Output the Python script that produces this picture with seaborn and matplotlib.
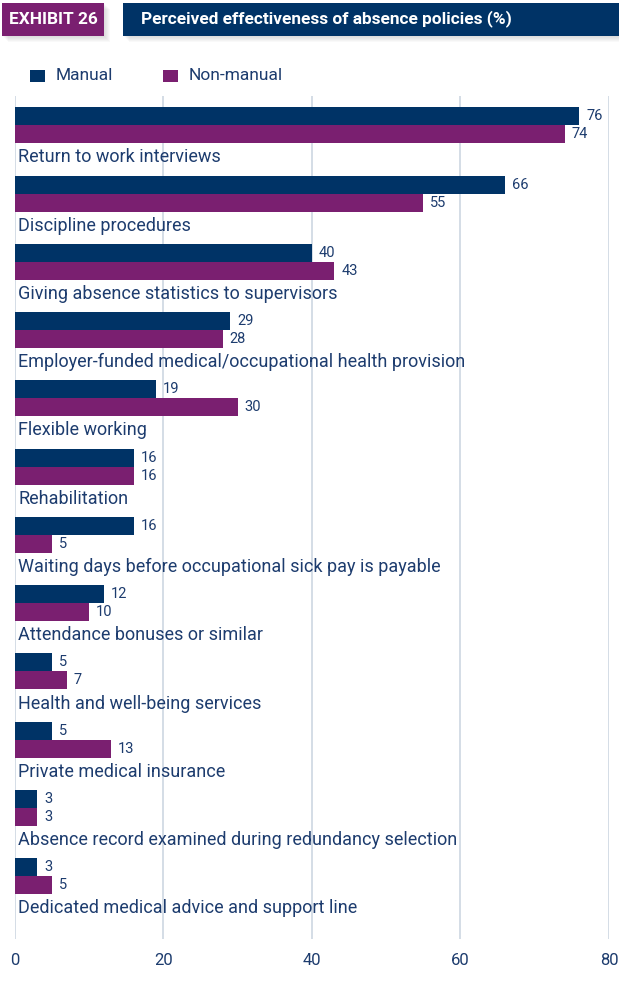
import matplotlib
matplotlib.use("Agg")
import matplotlib.pyplot as plt
from matplotlib.patches import Rectangle
import seaborn as sns
import pandas as pd

# Data
categories = [
    "Return to work interviews",
    "Discipline procedures",
    "Giving absence statistics to supervisors",
    "Employer-funded medical/occupational health provision",
    "Flexible working",
    "Rehabilitation",
    "Waiting days before occupational sick pay is payable",
    "Attendance bonuses or similar",
    "Health and well-being services",
    "Private medical insurance",
    "Absence record examined during redundancy selection",
    "Dedicated medical advice and support line",
]
manual = [76, 66, 40, 29, 19, 16, 16, 12, 5, 5, 3, 3]
non_manual = [74, 55, 43, 28, 30, 16, 5, 10, 7, 13, 3, 5]
series_names = ["Manual", "Non-manual"]
x_ticks = [0, 20, 40, 60, 80]
title = "Perceived effectiveness of absence policies (%)"
exhibit = "EXHIBIT 26"

NAVY = "#003366"
PURPLE = "#7a1f70"
TEXT = "#1d3c6e"
GRID = "#c9d3df"

df = pd.DataFrame({
    "category": categories * 2,
    "value": manual + non_manual,
    "group": [series_names[0]] * len(categories) + [series_names[1]] * len(categories),
})

sns.set_theme(style="white")
plt.rcParams["font.family"] = ["Roboto", "DejaVu Sans"]

W, H = 619, 990
fig = plt.figure(figsize=(W / 100, H / 100), dpi=100)
fig.patch.set_facecolor("white")
renderer = fig.canvas.get_renderer()


def fit_width(txt, target_px):
    """Rescale a text's font size so its rendered width is target_px."""
    w = txt.get_window_extent(renderer=renderer).width
    txt.set_fontsize(txt.get_fontsize() * target_px / w)


ax_top, ax_bot, ax_l, ax_r = 96, 939, 14.7, 609.1
ax = fig.add_axes([ax_l / W, (H - ax_bot) / H, (ax_r - ax_l) / W, (ax_bot - ax_top) / H])

sns.barplot(
    data=df, y="category", x="value", hue="group", orient="h",
    palette=[NAVY, PURPLE], width=0.527, dodge=True, legend=False,
    saturation=1, linewidth=0, ax=ax, zorder=3,
)

n = len(categories)
ax.set_xlim(0, 80)
ax.set_ylim(n - 1 + 0.92, -0.43)

for cont in ax.containers:
    ax.bar_label(cont, padding=5, fontsize=10.5, color=TEXT)

label_texts = []
for i, name in enumerate(categories):
    t = ax.text(0.45, i + 0.47, name, fontsize=14, color=TEXT,
                va="center", ha="left", zorder=4)
    label_texts.append(t)
# size all category labels so the longest one spans ~450 px
longest = max(label_texts, key=lambda t: t.get_window_extent(renderer=renderer).width)
fit_width(longest, 450)
for t in label_texts:
    t.set_fontsize(longest.get_fontsize())

for xv in x_ticks:
    ax.axvline(xv, color=GRID, lw=1.1, zorder=1)

for s in ax.spines.values():
    s.set_visible(False)
ax.set_yticks([])
ax.set_ylabel("")
ax.set_xlabel("")
ax.set_xticks(x_ticks)
ax.set_xticklabels([str(v) for v in x_ticks])
ax.tick_params(axis="x", length=0, pad=10, labelsize=12, labelcolor=TEXT)


def fig_rect(x0, y0, x1, y1, **kw):
    r = Rectangle((x0 / W, 1 - y1 / H), (x1 - x0) / W, (y1 - y0) / H,
                  transform=fig.transFigure, **kw)
    fig.patches.append(r)


# Header boxes with soft drop shadow
for k in range(6, 0, -1):
    fig_rect(2 + k, 3 + k, 104 + k, 36 + k, color="#8a8a8a", alpha=0.05, lw=0)
    fig_rect(123 + k, 3 + k, 640, 36 + k, color="#8a8a8a", alpha=0.05, lw=0)
fig_rect(2, 3, 104, 36, color=PURPLE, lw=0)
fig_rect(123, 3, 640, 36, color=NAVY, lw=0)
t_ex = fig.text(9 / W, 1 - 20 / H, exhibit, color="white", fontsize=13,
                fontweight="bold", ha="left", va="center")
fit_width(t_ex, 88)
t_title = fig.text(141 / W, 1 - 19 / H, title, color="white", fontsize=13,
                   fontweight="bold", ha="left", va="center")
fit_width(t_title, 372)

# Legend
for (x0, name, col, wpx) in [(30, series_names[0], NAVY, 58),
                             (163, series_names[1], PURPLE, 95)]:
    fig_rect(x0, 70, x0 + 15, 82, color=col, lw=0)
    t = fig.text((x0 + 26) / W, 1 - 76 / H, name, color=TEXT, fontsize=14,
                 ha="left", va="center")
    fit_width(t, wpx)

fig.savefig("out.png", dpi=100)
